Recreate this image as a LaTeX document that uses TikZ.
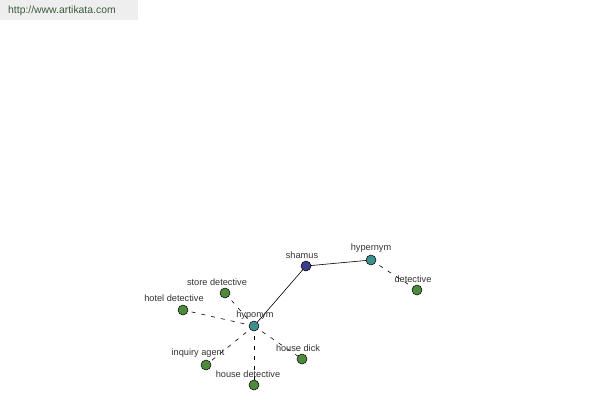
\documentclass[tikz,border=0pt]{standalone}
\usepackage{fontspec}
\setmainfont{Liberation Sans}
\definecolor{hdrbg}{HTML}{EEEEEE}
\definecolor{hdrtx}{HTML}{3C5A3C}
\definecolor{lbl}{HTML}{333333}
\definecolor{cblue}{HTML}{3C3C8C}
\definecolor{cteal}{HTML}{3F8F8F}
\definecolor{cgreen}{HTML}{4F8A3C}
\begin{document}
\begin{tikzpicture}[x=1pt,y=-1pt,
  dot/.style={circle,draw=black,line width=0.5pt,minimum size=10pt,inner sep=0pt},
  lab/.style={font=\fontsize{9.2}{10}\selectfont,text=lbl,inner sep=0pt},
  rel/.style={line width=0.6pt,draw=black},
  reld/.style={rel,dash pattern=on 4pt off 6pt}]
\useasboundingbox (0,0) rectangle (600,400);
\fill[white] (0,0) rectangle (600,400);
\node[fill=hdrbg,minimum width=138pt,minimum height=20pt,inner sep=0pt,anchor=north west] (hdr) at (0,0) {};
\node[font=\fontsize{10.4}{11}\selectfont,text=hdrtx,anchor=west,inner sep=0pt] (url) at (8,11) {http://www.artikata.com};
% node positions
\coordinate (pShamus) at (306,266);
\coordinate (pHyper) at (371,260);
\coordinate (pDet) at (417,290);
\coordinate (pHypo) at (254,326);
\coordinate (pStore) at (225,293);
\coordinate (pHotel) at (183,310);
\coordinate (pInq) at (206,365);
\coordinate (pHouseDet) at (254,385);
\coordinate (pDick) at (302,359);
% edges
\draw[rel] (pShamus) -- (pHyper);
\draw[rel] (pShamus) -- (pHypo);
\draw[reld] (pHyper) -- (pDet);
\draw[reld] (pHypo) -- (pStore);
\draw[reld] (pHypo) -- (pHotel);
\draw[reld] (pHypo) -- (pInq);
\draw[reld] (pHypo) -- (pHouseDet);
\draw[reld] (pHypo) -- (pDick);
% dots
\node[dot,fill=cblue] (shamus) at (pShamus) {};
\node[dot,fill=cteal] (hypernym) at (pHyper) {};
\node[dot,fill=cgreen] (detective) at (pDet) {};
\node[dot,fill=cteal] (hyponym) at (pHypo) {};
\node[dot,fill=cgreen] (store) at (pStore) {};
\node[dot,fill=cgreen] (hotel) at (pHotel) {};
\node[dot,fill=cgreen] (inquiry) at (pInq) {};
\node[dot,fill=cgreen] (housedet) at (pHouseDet) {};
\node[dot,fill=cgreen] (housedick) at (pDick) {};
% labels
\node[lab] (lShamus) at (302,255) {shamus};
\node[lab] (lHyper) at (371,248) {hypernym};
\node[lab] (lDet) at (413,279) {detective};
\node[lab] (lHypo) at (255,315) {hyponym};
\node[lab] (lStore) at (217,282) {store detective};
\node[lab] (lHotel) at (174,298) {hotel detective};
\node[lab] (lInq) at (198,353) {inquiry agent};
\node[lab] (lHouseDet) at (248,374) {house detective};
\node[lab] (lDick) at (298,348) {house dick};
\end{tikzpicture}
\end{document}
